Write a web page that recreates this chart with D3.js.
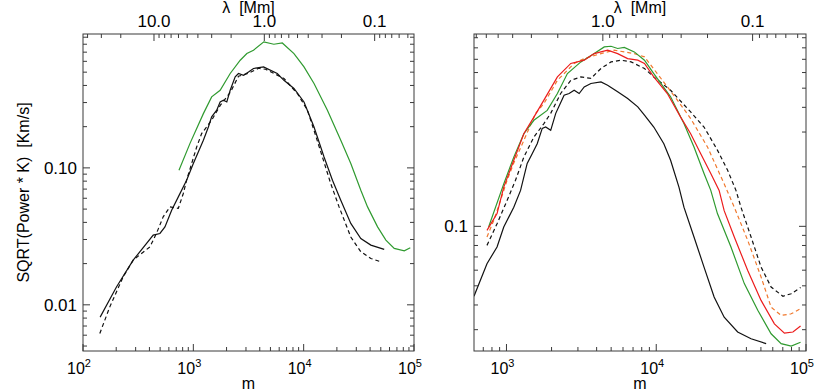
<!DOCTYPE html>
<html>
<head>
<meta charset="utf-8">
<script src="https://cdn.jsdelivr.net/npm/d3@7"></script>
<style>
  body { margin: 0; background: #fff; }
  svg { font-family: "Liberation Sans", Arial, Helvetica, sans-serif; }
</style>
</head>
<body>
<svg id="chart" width="830" height="391"></svg>
<script>
// wavelength on the top axis: lambda [Mm] = LAMBDA_C / m
var LAMBDA_C = 4400;

// left panel, [m, sqrt(power*k)]
var leftBlack = [[143,0.00813],[201,0.0135],[285,0.0212],[433,0.0323],[498,0.0332],[553,0.0371],[636,0.0491],
  [731,0.0614],[869,0.0813],[1000,0.1077],[1233,0.159],[1369,0.199],[1466,0.236],[1629,0.264],[1750,0.303],
  [1875,0.312],[2010,0.303],[2158,0.369],[2395,0.462],[2566,0.489],[2850,0.475],[3162,0.502],[3508,0.532],
  [4327,0.546],[5764,0.489],[6622,0.436],[8166,0.380],[10070,0.303],[12410,0.199],[15300,0.120],[18240,0.0813],
  [21690,0.0581],[26740,0.0393],[32960,0.0305],[40640,0.0273],[53700,0.0254]];
var leftBlackDash = [[142,0.00618],[175,0.00966],[231,0.0160],[285,0.0212],[404,0.0265],[463,0.0332],[533,0.0439],
  [614,0.0519],[731,0.0506],[811,0.0650],[869,0.0813],[1072,0.142],[1189,0.178],[1466,0.223],[1758,0.287],
  [2168,0.357],[2566,0.467],[3162,0.491],[3899,0.534],[4518,0.525],[6622,0.450],[8770,0.349],[10810,0.264],
  [12410,0.188],[14790,0.120],[17580,0.0769],[20940,0.0519],[26740,0.0313],[32960,0.0244],[40640,0.0218],[50120,0.0206]];
var leftGreen = [[741,0.0962],[933,0.151],[1233,0.249],[1466,0.330],[1750,0.369],[2158,0.489],[2661,0.611],
  [3055,0.684],[3508,0.723],[4355,0.832],[5370,0.800],[6400,0.817],[8166,0.684],[10070,0.546],[12410,0.413],
  [16410,0.264],[21690,0.159],[26740,0.1077],[32960,0.0687],[37930,0.0519],[46760,0.0371],[55610,0.0297],
  [66220,0.0258],[81660,0.0248],[92530,0.0261]];

// right panel
var rightBlack = [[607,0.0443],[741,0.0647],[865,0.0786],[959,0.0992],[1119,0.125],[1242,0.152],[1375,0.208],
  [1485,0.233],[1604,0.262],[1733,0.313],[1827,0.318],[1974,0.306],[2133,0.373],[2425,0.461],[2620,0.470],
  [2831,0.488],[3057,0.470],[3304,0.507],[3662,0.528],[4276,0.538],[4735,0.518],[5525,0.479],[6446,0.443],
  [7530,0.402],[8345,0.365],[9630,0.318],[11240,0.262],[12470,0.216],[14180,0.158],[15310,0.125],[17870,0.0883],
  [20850,0.0622],[24350,0.0439],[28420,0.0347],[34970,0.0292],[42970,0.0270],[54180,0.0255]];
var rightBlackDash = [[741,0.0801],[865,0.103],[1009,0.135],[1149,0.171],[1306,0.224],[1524,0.283],[1778,0.331],
  [1974,0.373],[2301,0.470],[2689,0.548],[3138,0.570],[3662,0.560],[4276,0.629],[4989,0.679],[5821,0.693],
  [6792,0.679],[8345,0.629],[9630,0.570],[12470,0.488],[16980,0.379],[20850,0.318],[25620,0.243],[29970,0.192],
  [34060,0.152],[36800,0.125],[42970,0.0883],[50120,0.0622],[58480,0.0493],[70150,0.0443],[79650,0.0456],[91990,0.0490]];
var rightRed = [[741,0.0954],[865,0.116],[959,0.158],[1119,0.216],[1306,0.294],[1524,0.357],[1778,0.435],
  [2188,0.570],[2689,0.667],[3304,0.693],[3855,0.748],[4735,0.778],[5525,0.748],[6446,0.706],[7530,0.693],
  [8345,0.667],[9630,0.570],[11860,0.470],[14550,0.357],[16980,0.294],[19820,0.233],[23130,0.185],[26300,0.152],
  [28420,0.120],[33200,0.0883],[40820,0.0598],[50120,0.0422],[61520,0.0321],[71780,0.0288],[81790,0.0292],[91990,0.0313]];
var rightOrangeDash = [[741,0.0883],[822,0.107],[912,0.135],[1009,0.171],[1119,0.209],[1306,0.272],[1566,0.373],
  [1778,0.418],[2188,0.548],[2831,0.667],[3304,0.706],[4276,0.748],[5249,0.778],[7140,0.748],[8345,0.720],
  [10160,0.593],[13840,0.435],[16980,0.351],[21990,0.252],[28420,0.164],[33200,0.125],[40820,0.0849],
  [50120,0.0554],[58480,0.0390],[68230,0.0354],[79650,0.0361],[91990,0.0383]];
var rightGreen = [[760,0.0992],[959,0.164],[1119,0.224],[1306,0.294],[1524,0.344],[1871,0.386],[2188,0.470],
  [2552,0.593],[3138,0.679],[3855,0.748],[4497,0.809],[4989,0.815],[5525,0.794],[6120,0.804],[7140,0.763],
  [8345,0.693],[9630,0.593],[12470,0.452],[15310,0.331],[17870,0.252],[20850,0.185],[23130,0.152],[25620,0.116],
  [31550,0.0786],[38730,0.0513],[47640,0.0376],[58480,0.0286],[68230,0.0255],[79650,0.0248],[91990,0.0259]];

// tick labels
var leftXExp = [2, 3, 4, 5];
var rightXExp = [3, 4, 5];
var leftYLabels = [[0.1, "0.10"], [0.01, "0.01"]];
var rightYLabels = [[0.1, "0.1"]];
var leftLamLabels = ["10.0", "1.0", "0.1"];
var rightLamLabels = ["1.0", "0.1"];

var GREEN = "#2f9a2f", RED = "#ec1c1c", ORANGE = "#f0782d";

var svg = d3.select("#chart");

function isMajor(v) {
  var l = Math.log10(v);
  return Math.abs(l - Math.round(l)) < 1e-6;
}

function drawPanel(cfg) {
  var x = d3.scaleLog().domain(cfg.xDomain).range([cfg.left, cfg.right]);
  var y = d3.scaleLog().domain(cfg.yDomain).range([cfg.bottom, cfg.top]);
  var lam = d3.scaleLog()
              .domain([LAMBDA_C / cfg.xDomain[0], LAMBDA_C / cfg.xDomain[1]])
              .range([cfg.left, cfg.right]);

  var g = svg.append("g");

  g.append("clipPath").attr("id", cfg.id + "-clip")
    .append("rect")
      .attr("x", cfg.left).attr("y", cfg.top)
      .attr("width", cfg.right - cfg.left).attr("height", cfg.bottom - cfg.top);

  var line = d3.line().x(d => x(d[0])).y(d => y(d[1]));

  g.append("g").attr("clip-path", "url(#" + cfg.id + "-clip)")
    .selectAll("path")
    .data(cfg.series)
    .enter()
      .append("path")
      .attr("fill", "none")
      .attr("stroke", d => d.color)
      .attr("stroke-width", 1.2)
      .attr("stroke-dasharray", d => d.dash ? "4,3" : null)
      .attr("d", d => line(d.data));

  // frame
  g.append("rect")
    .attr("x", cfg.left).attr("y", cfg.top)
    .attr("width", cfg.right - cfg.left).attr("height", cfg.bottom - cfg.top)
    .attr("fill", "none").attr("stroke", "#3a3a3a").attr("stroke-width", 1);

  var ticks = g.append("g").attr("stroke", "#3a3a3a").attr("stroke-width", 1);
  var len = v => isMajor(v) ? 7 : 4;

  // bottom + top (lambda) ticks
  x.ticks().forEach(function(v) {
    ticks.append("line")
      .attr("x1", x(v)).attr("x2", x(v))
      .attr("y1", cfg.bottom).attr("y2", cfg.bottom - len(v));
  });
  lam.ticks().forEach(function(v) {
    ticks.append("line")
      .attr("x1", lam(v)).attr("x2", lam(v))
      .attr("y1", cfg.top).attr("y2", cfg.top + len(v));
  });
  // left + right ticks
  y.ticks().forEach(function(v) {
    ticks.append("line")
      .attr("x1", cfg.left).attr("x2", cfg.left + len(v))
      .attr("y1", y(v)).attr("y2", y(v));
    ticks.append("line")
      .attr("x1", cfg.right).attr("x2", cfg.right - len(v))
      .attr("y1", y(v)).attr("y2", y(v));
  });

  // bottom labels 10^n
  var xl = g.selectAll(".xlab")
    .data(cfg.xExp)
    .enter()
      .append("text")
      .attr("x", d => x(Math.pow(10, d)) - 4)
      .attr("y", cfg.bottom + 23)
      .attr("font-size", "16px")
      .style("text-anchor", "middle");
  xl.append("tspan").text("10");
  xl.append("tspan").attr("font-size", "11px").attr("dy", "-7").text(d => d);

  g.append("text")
    .attr("x", (cfg.left + cfg.right) / 2)
    .attr("y", 389)
    .attr("font-size", "16px")
    .style("text-anchor", "middle")
    .text("m");

  // y labels
  g.selectAll(".ylab")
    .data(cfg.yLabels)
    .enter()
      .append("text")
      .attr("x", cfg.left - 6)
      .attr("y", d => y(d[0]))
      .attr("dy", "0.36em")
      .attr("font-size", "17px")
      .style("text-anchor", "end")
      .text(d => d[1]);

  // top labels
  g.selectAll(".lamlab")
    .data(cfg.lamLabels)
    .enter()
      .append("text")
      .attr("x", d => lam(+d))
      .attr("y", cfg.top - 7)
      .attr("font-size", "17px")
      .style("text-anchor", "middle")
      .text(d => d);

  g.append("text")
    .attr("x", (cfg.left + cfg.right) / 2)
    .attr("y", 13)
    .attr("font-size", "16px")
    .style("text-anchor", "middle")
    .style("white-space", "pre")
    .text("\u03bb  [Mm]");
}

drawPanel({
  id: "left", left: 83, right: 414, top: 34, bottom: 351,
  xDomain: [100, 1e5], yDomain: [0.0046, 0.95],
  xExp: leftXExp, yLabels: leftYLabels, lamLabels: leftLamLabels,
  series: [
    {data: leftGreen, color: GREEN},
    {data: leftBlackDash, color: "#111", dash: true},
    {data: leftBlack, color: "#111"}
  ]
});

drawPanel({
  id: "right", left: 474, right: 806, top: 34, bottom: 351,
  xDomain: [607, 1e5], yDomain: [0.0234, 0.94],
  xExp: rightXExp, yLabels: rightYLabels, lamLabels: rightLamLabels,
  series: [
    {data: rightBlackDash, color: "#111", dash: true},
    {data: rightOrangeDash, color: ORANGE, dash: true},
    {data: rightGreen, color: GREEN},
    {data: rightRed, color: RED},
    {data: rightBlack, color: "#111"}
  ]
});

svg.append("text")
  .attr("transform", "translate(29," + ((34 + 351) / 2) + ") rotate(-90)")
  .attr("font-size", "16px")
  .style("text-anchor", "middle")
  .style("white-space", "pre")
  .text("SQRT(Power * K)  [Km/s]");
</script>
</body>
</html>
